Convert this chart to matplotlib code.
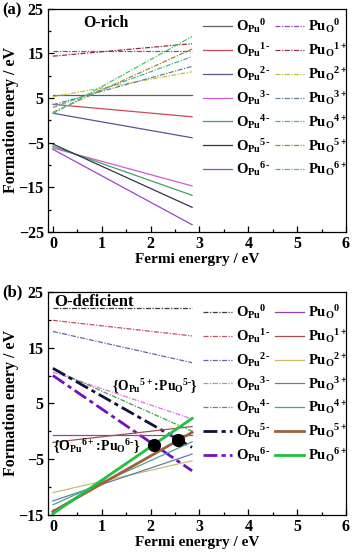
import matplotlib
matplotlib.use("Agg")
import matplotlib.pyplot as plt

plt.rcParams["font.family"] = "Liberation Serif"
plt.rcParams["font.weight"] = "bold"
plt.rcParams["mathtext.fontset"] = "custom"
plt.rcParams["mathtext.rm"] = "Liberation Serif:bold"
plt.rcParams["mathtext.it"] = "Liberation Serif:bold"
plt.rcParams["mathtext.bf"] = "Liberation Serif:bold"

# Fermi energy range of every line (eV)
fermi = [0.0, 2.85]

# charge labels
q_opu = ["0", "1‐", "2‐", "3‐", "4‐", "5‐", "6‐"]
q_puo = ["0", "1+", "2+", "3+", "4+", "5+", "6+"]

# (a) O-rich: formation energies at E_F = 0 and E_F = 2.85
a_opu_start = [5.7, 3.6, 1.6, -6.2, -5.8, -5.3, -6.5]
a_opu_end = [5.7, 0.8, -3.9, -14.7, -16.8, -19.5, -23.4]
a_puo_start = [15.6, 14.4, 5.3, 3.5, 2.9, 1.8, 1.5]
a_puo_end = [15.6, 17.2, 10.9, 12.1, 14.3, 16.0, 18.8]

# (b) O-deficient
b_opu_start = [22.1, 19.9, 17.9, 10.6, 11.1, 11.3, 10.0]
b_opu_end = [22.1, 17.1, 12.3, 2.2, 0.0, -2.9, -7.1]
b_puo_start = [-0.65, -2.0, -11.0, -12.5, -13.2, -14.4, -14.8]
b_puo_end = [-0.65, 0.85, -5.3, -4.1, -1.9, -0.2, 2.3]

# crossing points marked in (b)
dot_x = [2.07, 2.57]
dot_y = [-2.4, -1.55]

a_opu_col = ["#5f5f5f", "#c84a5a", "#56568e", "#d25ad2", "#3fa064", "#34344c", "#9a46c8"]
a_puo_col = ["#9440b4", "#8e3040", "#c8c040", "#5a8494", "#3cb4a0", "#a48234", "#44c464"]
b_opu_col = ["#3c3c3c", "#c05060", "#6464a0", "#e070e0", "#40a050", "#101040", "#7010c0"]
b_puo_col = ["#9040b0", "#a05050", "#c8c070", "#6080a0", "#50a090", "#a06040", "#20c040"]

DD = (0, (4, 1.2, 1, 1.2))
DD_THICK = (0, (5, 1.5, 1.5, 1.5))

fig = plt.figure(figsize=(3.53, 5.56), dpi=100)
ax1 = fig.add_axes([0.136, 0.583, 0.844, 0.401])
ax2 = fig.add_axes([0.136, 0.074, 0.844, 0.401])


def lab(base, sub, q):
    return r"$\mathregular{%s_{%s}{}^{%s}}$" % (base, sub, q)


for i, q in enumerate(q_opu):
    ax1.plot(fermi, [a_opu_start[i], a_opu_end[i]], "-", color=a_opu_col[i], lw=0.9,
             label=lab("O", "Pu", q))
for i, q in enumerate(q_puo):
    ax1.plot(fermi, [a_puo_start[i], a_puo_end[i]], ls=DD, color=a_puo_col[i], lw=0.9,
             label=lab("Pu", "O", q))

for i, q in enumerate(q_opu):
    thick = i >= 5
    ax2.plot(fermi, [b_opu_start[i], b_opu_end[i]], ls=DD_THICK if thick else DD,
             color=b_opu_col[i], lw=2.0 if thick else 0.9, label=lab("O", "Pu", q))
for i, q in enumerate(q_puo):
    thick = i >= 5
    ax2.plot(fermi, [b_puo_start[i], b_puo_end[i]], "-", color=b_puo_col[i],
             lw=2.0 if thick else 0.9, label=lab("Pu", "O", q), zorder=3 if thick else 2)
ax2.plot(dot_x, dot_y, "o", color="black", ms=8.5, zorder=5)

for ax, lo, hi, top in ((ax1, -25, 25, 0.962), (ax2, -15, 25, 0.95)):
    ax.set_xlim(-0.1, 6)
    ax.set_ylim(lo, hi)
    ax.set_xticks(range(0, 7))
    ax.set_xticks([0.5 + k for k in range(6)], minor=True)
    ax.set_yticks(range(hi, lo - 1, -10))
    ax.set_yticks(range(hi - 5, lo, -10), minor=True)
    ax.tick_params(direction="in", which="both", labelsize=11.5, width=0.9, pad=3)
    ax.tick_params(which="major", length=4)
    ax.tick_params(which="minor", length=2.5)
    for s in ax.spines.values():
        s.set_linewidth(0.9)
    ax.set_xlabel("Fermi energry / eV", fontsize=11, fontweight="bold", labelpad=1)
    ax.set_ylabel("Formation enery / eV", fontsize=11.5, fontweight="bold", labelpad=0)
    ax.legend(ncol=2, loc="upper left", bbox_to_anchor=(0.52, top), frameon=False,
              fontsize=10.5, handlelength=2.0, handletextpad=0.3, columnspacing=0.3,
              labelspacing=0.4, borderaxespad=0, borderpad=0)

ax1.text(0.117, 0.937, "O-rich", transform=ax1.transAxes, fontsize=11.5, fontweight="bold",
         va="center")
ax2.text(0.02, 0.955, "O-deficient", transform=ax2.transAxes, fontsize=12,
         fontweight="bold", va="center")
ax2.text(1.2, 8.0, r"$\mathregular{\{O_{Pu}{}^{5+}\!:\!Pu_{O}{}^{5‐}\}}$", fontsize=9.8,
         va="center")
ax2.text(0.0, -2.8, r"$\mathregular{\{O_{Pu}{}^{6+}\!:\!Pu_{O}{}^{6‐}\}}$", fontsize=10,
         va="center")

fig.text(0.005, 0.982, "(a)", fontsize=12, fontweight="bold", va="center")
fig.text(0.005, 0.475, "(b)", fontsize=12, fontweight="bold", va="center")

fig.savefig("out.png", dpi=100)
